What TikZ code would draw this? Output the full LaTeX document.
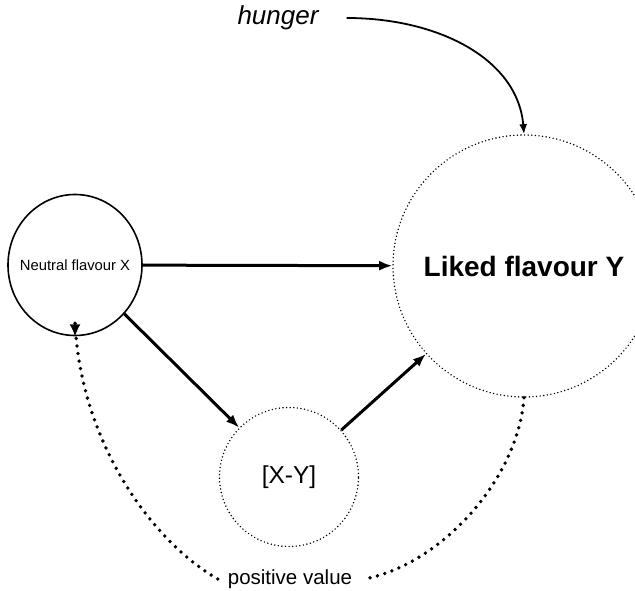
\documentclass[tikz,border=0pt]{standalone}
\usepackage{fontspec}
\setmainfont{Liberation Sans}
\usetikzlibrary{arrows.meta,shapes.geometric}
\begin{document}
\begin{tikzpicture}[x=1pt,y=-1pt,
  solidring/.style={draw,line width=1.6pt,ellipse,inner sep=0pt},
  dotring/.style={draw,circle,inner sep=0pt,line width=1.6pt,line cap=round,dash pattern=on 0pt off 3.6pt},
  link/.style={line width=3pt,-{Latex[length=13pt,width=10pt]}},
  feedback/.style={line width=3.8pt,line cap=round,dash pattern=on 0pt off 7.6pt},
  plaintext/.style={inner sep=0pt}]
\useasboundingbox (0,0) rectangle (635,591);
% nodes (the X ring keeps its size; its name is set as a centred label)
\node[solidring,minimum width=134pt,minimum height=141pt,
  label={[font=\fontsize{14.8}{17}\selectfont]center:Neutral flavour X}] (neutral) at (75,265) {};
\node[dotring,minimum size=262pt,font=\fontsize{28}{31}\selectfont\bfseries] (liked) at (524,266) {Liked flavour Y};
\node[dotring,minimum size=139pt,font=\fontsize{24.5}{27}\selectfont] (xy) at (289,477) {[X-Y]};
\node[plaintext,font=\fontsize{26}{28}\selectfont\itshape] (hunger) at (278,18) {hunger};
\node[plaintext,font=\fontsize{20.5}{23}\selectfont] (pv) at (290,579) {positive value};
% solid connectors
\draw[link] (neutral) -- (liked);
\draw[link] (neutral) -- (xy);
\draw[link] (xy) -- (liked);
% hunger acts on the liked flavour
\draw[line width=1.8pt,-{Latex[length=10pt,width=8pt]},shorten <=28pt]
  (hunger.east) .. controls (440,18) and (518,60) .. (liked.north);
% dotted feedback loop through the positive value
\draw[feedback] (liked.south) .. controls (518,480) and (440,565) .. ([xshift=12pt]pv.east);
\draw[feedback] ([xshift=-10pt]pv.west) .. controls (150,540) and (80,440) .. ([yshift=15pt]neutral.south);
\draw[line width=1.5pt,-{Latex[length=12pt,width=11pt]}] ([yshift=12pt]neutral.south) -- (neutral.south);
\end{tikzpicture}
\end{document}
